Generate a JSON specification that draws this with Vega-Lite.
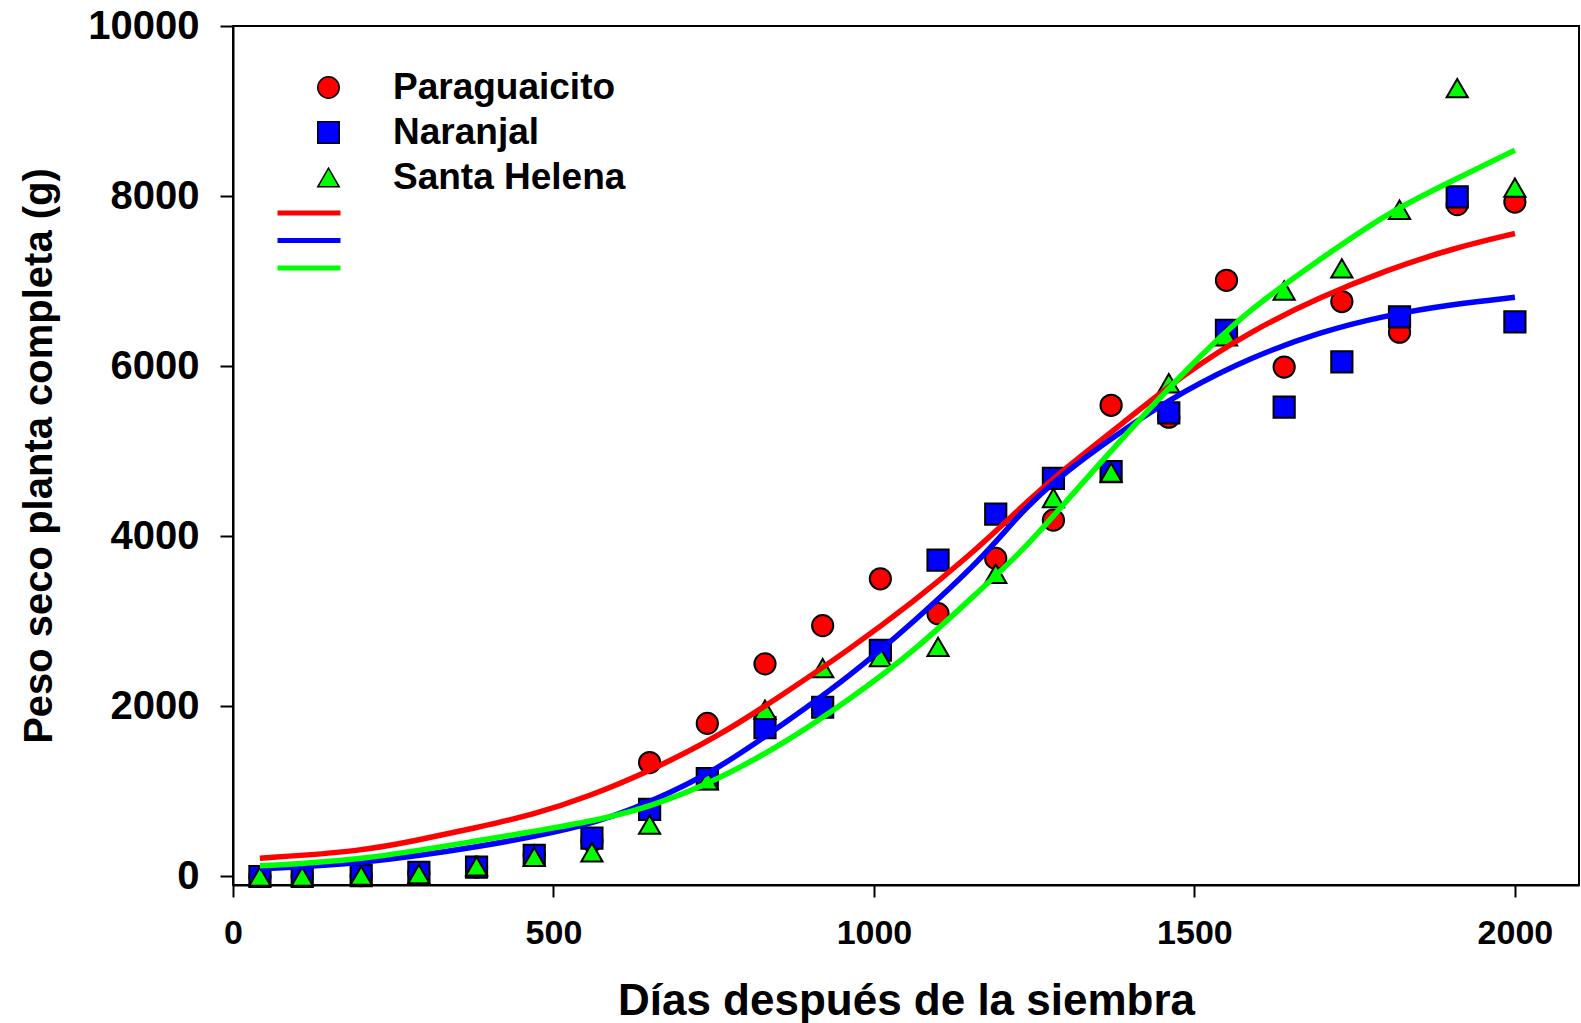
{
  "$schema": "https://vega.github.io/schema/vega-lite/v6.json",
  "width": 1346,
  "height": 859,
  "autosize": {"type": "none"},
  "padding": {"left": 233, "top": 26, "right": 2, "bottom": 138},
  "background": "white",
  "config": {
    "view": {"stroke": "black", "strokeWidth": 2},
    "font": "Liberation Sans",
    "axis": {
      "grid": false,
      "domainColor": "black",
      "domainWidth": 2,
      "tickColor": "black",
      "tickWidth": 2,
      "tickSize": 12,
      "labelFont": "Liberation Sans",
      "labelFontWeight": "bold",
      "labelFontSize": 34,
      "labelColor": "black",
      "labelFlush": false,
      "titleFont": "Liberation Sans",
      "titleFontWeight": "bold",
      "titleFontSize": 40,
      "titleColor": "black"
    },
    "legend": {
      "labelFont": "Liberation Sans",
      "labelFontWeight": "bold",
      "labelColor": "black",
      "labelLimit": 400,
      "padding": 0
    }
  },
  "datasets": {
    "observado": [
      {"sitio": "Paraguaicito", "dias": 42, "peso": 0},
      {"sitio": "Paraguaicito", "dias": 108, "peso": 0},
      {"sitio": "Paraguaicito", "dias": 200, "peso": 10},
      {"sitio": "Paraguaicito", "dias": 290, "peso": 40},
      {"sitio": "Paraguaicito", "dias": 380, "peso": 110},
      {"sitio": "Paraguaicito", "dias": 470, "peso": 250},
      {"sitio": "Paraguaicito", "dias": 560, "peso": 420},
      {"sitio": "Paraguaicito", "dias": 650, "peso": 1340},
      {"sitio": "Paraguaicito", "dias": 740, "peso": 1800},
      {"sitio": "Paraguaicito", "dias": 830, "peso": 2500},
      {"sitio": "Paraguaicito", "dias": 920, "peso": 2950},
      {"sitio": "Paraguaicito", "dias": 1010, "peso": 3500},
      {"sitio": "Paraguaicito", "dias": 1100, "peso": 3090},
      {"sitio": "Paraguaicito", "dias": 1190, "peso": 3740},
      {"sitio": "Paraguaicito", "dias": 1280, "peso": 4190},
      {"sitio": "Paraguaicito", "dias": 1370, "peso": 5540},
      {"sitio": "Paraguaicito", "dias": 1460, "peso": 5400},
      {"sitio": "Paraguaicito", "dias": 1550, "peso": 7010},
      {"sitio": "Paraguaicito", "dias": 1640, "peso": 5990},
      {"sitio": "Paraguaicito", "dias": 1730, "peso": 6760},
      {"sitio": "Paraguaicito", "dias": 1820, "peso": 6400},
      {"sitio": "Paraguaicito", "dias": 1910, "peso": 7900},
      {"sitio": "Paraguaicito", "dias": 2000, "peso": 7930},
      {"sitio": "Naranjal", "dias": 42, "peso": 0},
      {"sitio": "Naranjal", "dias": 108, "peso": 0},
      {"sitio": "Naranjal", "dias": 200, "peso": 10},
      {"sitio": "Naranjal", "dias": 290, "peso": 50},
      {"sitio": "Naranjal", "dias": 380, "peso": 110},
      {"sitio": "Naranjal", "dias": 470, "peso": 250},
      {"sitio": "Naranjal", "dias": 560, "peso": 450},
      {"sitio": "Naranjal", "dias": 650, "peso": 790},
      {"sitio": "Naranjal", "dias": 740, "peso": 1150},
      {"sitio": "Naranjal", "dias": 830, "peso": 1750},
      {"sitio": "Naranjal", "dias": 920, "peso": 1990},
      {"sitio": "Naranjal", "dias": 1010, "peso": 2660},
      {"sitio": "Naranjal", "dias": 1100, "peso": 3720},
      {"sitio": "Naranjal", "dias": 1190, "peso": 4260},
      {"sitio": "Naranjal", "dias": 1280, "peso": 4680},
      {"sitio": "Naranjal", "dias": 1370, "peso": 4760},
      {"sitio": "Naranjal", "dias": 1460, "peso": 5450},
      {"sitio": "Naranjal", "dias": 1550, "peso": 6420},
      {"sitio": "Naranjal", "dias": 1640, "peso": 5520},
      {"sitio": "Naranjal", "dias": 1730, "peso": 6050},
      {"sitio": "Naranjal", "dias": 1820, "peso": 6580},
      {"sitio": "Naranjal", "dias": 1910, "peso": 7990},
      {"sitio": "Naranjal", "dias": 2000, "peso": 6520},
      {"sitio": "Santa Helena", "dias": 42, "peso": 0},
      {"sitio": "Santa Helena", "dias": 108, "peso": 0},
      {"sitio": "Santa Helena", "dias": 200, "peso": 10},
      {"sitio": "Santa Helena", "dias": 290, "peso": 30},
      {"sitio": "Santa Helena", "dias": 380, "peso": 120},
      {"sitio": "Santa Helena", "dias": 470, "peso": 230},
      {"sitio": "Santa Helena", "dias": 560, "peso": 285},
      {"sitio": "Santa Helena", "dias": 650, "peso": 610},
      {"sitio": "Santa Helena", "dias": 740, "peso": 1130},
      {"sitio": "Santa Helena", "dias": 830, "peso": 1960},
      {"sitio": "Santa Helena", "dias": 920, "peso": 2450},
      {"sitio": "Santa Helena", "dias": 1010, "peso": 2580},
      {"sitio": "Santa Helena", "dias": 1100, "peso": 2700},
      {"sitio": "Santa Helena", "dias": 1190, "peso": 3560},
      {"sitio": "Santa Helena", "dias": 1280, "peso": 4450},
      {"sitio": "Santa Helena", "dias": 1370, "peso": 4750},
      {"sitio": "Santa Helena", "dias": 1460, "peso": 5800},
      {"sitio": "Santa Helena", "dias": 1550, "peso": 6350},
      {"sitio": "Santa Helena", "dias": 1640, "peso": 6890},
      {"sitio": "Santa Helena", "dias": 1730, "peso": 7150},
      {"sitio": "Santa Helena", "dias": 1820, "peso": 7840},
      {"sitio": "Santa Helena", "dias": 1910, "peso": 9270},
      {"sitio": "Santa Helena", "dias": 2000, "peso": 8100}
    ],
    "ajuste": [
      {"curva": "Paraguaicito", "dias": 42, "peso": 215},
      {"curva": "Paraguaicito", "dias": 200, "peso": 295},
      {"curva": "Paraguaicito", "dias": 290, "peso": 430},
      {"curva": "Paraguaicito", "dias": 380, "peso": 575},
      {"curva": "Paraguaicito", "dias": 470, "peso": 730},
      {"curva": "Paraguaicito", "dias": 555, "peso": 940},
      {"curva": "Paraguaicito", "dias": 650, "peso": 1240},
      {"curva": "Paraguaicito", "dias": 755, "peso": 1635},
      {"curva": "Paraguaicito", "dias": 860, "peso": 2150},
      {"curva": "Paraguaicito", "dias": 960, "peso": 2660},
      {"curva": "Paraguaicito", "dias": 1065, "peso": 3250},
      {"curva": "Paraguaicito", "dias": 1145, "peso": 3750},
      {"curva": "Paraguaicito", "dias": 1210, "peso": 4200},
      {"curva": "Paraguaicito", "dias": 1275, "peso": 4660},
      {"curva": "Paraguaicito", "dias": 1380, "peso": 5280},
      {"curva": "Paraguaicito", "dias": 1485, "peso": 5920},
      {"curva": "Paraguaicito", "dias": 1590, "peso": 6420},
      {"curva": "Paraguaicito", "dias": 1695, "peso": 6810},
      {"curva": "Paraguaicito", "dias": 1800, "peso": 7130},
      {"curva": "Paraguaicito", "dias": 1905, "peso": 7390},
      {"curva": "Paraguaicito", "dias": 2000, "peso": 7560},
      {"curva": "Naranjal", "dias": 42, "peso": 90},
      {"curva": "Naranjal", "dias": 200, "peso": 150},
      {"curva": "Naranjal", "dias": 380, "peso": 340},
      {"curva": "Naranjal", "dias": 555, "peso": 590},
      {"curva": "Naranjal", "dias": 650, "peso": 870},
      {"curva": "Naranjal", "dias": 755, "peso": 1250},
      {"curva": "Naranjal", "dias": 860, "peso": 1800},
      {"curva": "Naranjal", "dias": 960, "peso": 2340},
      {"curva": "Naranjal", "dias": 1065, "peso": 3010},
      {"curva": "Naranjal", "dias": 1170, "peso": 3750},
      {"curva": "Naranjal", "dias": 1220, "peso": 4200},
      {"curva": "Naranjal", "dias": 1275, "peso": 4620},
      {"curva": "Naranjal", "dias": 1380, "peso": 5210},
      {"curva": "Naranjal", "dias": 1485, "peso": 5720},
      {"curva": "Naranjal", "dias": 1590, "peso": 6110},
      {"curva": "Naranjal", "dias": 1695, "peso": 6400},
      {"curva": "Naranjal", "dias": 1800, "peso": 6600},
      {"curva": "Naranjal", "dias": 1905, "peso": 6730},
      {"curva": "Naranjal", "dias": 2000, "peso": 6810},
      {"curva": "Santa Helena", "dias": 42, "peso": 125},
      {"curva": "Santa Helena", "dias": 200, "peso": 190},
      {"curva": "Santa Helena", "dias": 380, "peso": 420},
      {"curva": "Santa Helena", "dias": 555, "peso": 635},
      {"curva": "Santa Helena", "dias": 650, "peso": 815},
      {"curva": "Santa Helena", "dias": 755, "peso": 1130},
      {"curva": "Santa Helena", "dias": 860, "peso": 1565},
      {"curva": "Santa Helena", "dias": 960, "peso": 2070},
      {"curva": "Santa Helena", "dias": 1065, "peso": 2660},
      {"curva": "Santa Helena", "dias": 1170, "peso": 3400},
      {"curva": "Santa Helena", "dias": 1233, "peso": 3835},
      {"curva": "Santa Helena", "dias": 1301, "peso": 4420},
      {"curva": "Santa Helena", "dias": 1380, "peso": 5090},
      {"curva": "Santa Helena", "dias": 1485, "peso": 5950},
      {"curva": "Santa Helena", "dias": 1590, "peso": 6700},
      {"curva": "Santa Helena", "dias": 1695, "peso": 7250},
      {"curva": "Santa Helena", "dias": 1800, "peso": 7800},
      {"curva": "Santa Helena", "dias": 1905, "peso": 8190},
      {"curva": "Santa Helena", "dias": 2000, "peso": 8540}
    ]
  },
  "encoding": {
    "x": {
      "field": "dias",
      "type": "quantitative",
      "scale": {"domain": [0, 2100], "nice": false, "zero": false},
      "axis": {
        "title": "Días después de la siembra",
        "titleFontSize": 44,
        "values": [0, 500, 1000, 1500, 2000],
        "format": "d",
        "labelPadding": 19,
        "titlePadding": 29
      }
    },
    "y": {
      "field": "peso",
      "type": "quantitative",
      "scale": {"domain": [-100, 10000], "nice": false, "zero": false},
      "axis": {
        "title": "Peso seco planta completa (g)",
        "values": [0, 2000, 4000, 6000, 8000, 10000],
        "format": "d",
        "labelFontSize": 40,
        "tickSize": 13,
        "labelPadding": 21,
        "titlePadding": 28
      }
    }
  },
  "layer": [
    {
      "data": {"name": "observado"},
      "mark": {"type": "point", "filled": true, "opacity": 1, "size": 450, "stroke": "black", "strokeWidth": 2},
      "encoding": {
        "color": {
          "field": "sitio",
          "type": "nominal",
          "scale": {"domain": ["Paraguaicito", "Naranjal", "Santa Helena"], "range": ["#ff0000", "#0000ff", "#00ff00"]},
          "legend": {
            "title": null,
            "orient": "none",
            "legendX": 77,
            "legendY": 43,
            "symbolSize": 460,
            "labelFontSize": 37,
            "labelOffset": 46,
            "rowPadding": 7,
            "encode": {"symbols": {"update": {"stroke": {"value": "black"}, "strokeWidth": {"value": 2}, "opacity": {"value": 1}}}}
          }
        },
        "shape": {
          "field": "sitio",
          "type": "nominal",
          "scale": {"domain": ["Paraguaicito", "Naranjal", "Santa Helena"], "range": ["circle", "square", "triangle-up"]},
          "legend": {
            "title": null,
            "orient": "none",
            "legendX": 77,
            "legendY": 43,
            "symbolSize": 460,
            "labelFontSize": 37,
            "labelOffset": 46,
            "rowPadding": 7,
            "encode": {"symbols": {"update": {"stroke": {"value": "black"}, "strokeWidth": {"value": 2}, "opacity": {"value": 1}}}}
          }
        }
      }
    },
    {
      "data": {"name": "ajuste"},
      "mark": {"type": "line", "strokeWidth": 5.5, "interpolate": "basis"},
      "encoding": {
        "stroke": {
          "field": "curva",
          "type": "nominal",
          "sort": ["Paraguaicito", "Naranjal", "Santa Helena"],
          "scale": {"range": ["#ff0000", "#0000ff", "#00ff00"]},
          "legend": {
            "title": null,
            "orient": "none",
            "legendX": 63,
            "legendY": 174,
            "symbolType": "M-3,0H3",
            "symbolSize": 441,
            "symbolStrokeWidth": 5,
            "labelExpr": "''",
            "labelFontSize": 10,
            "rowPadding": 4.5
          }
        }
      }
    }
  ]
}
